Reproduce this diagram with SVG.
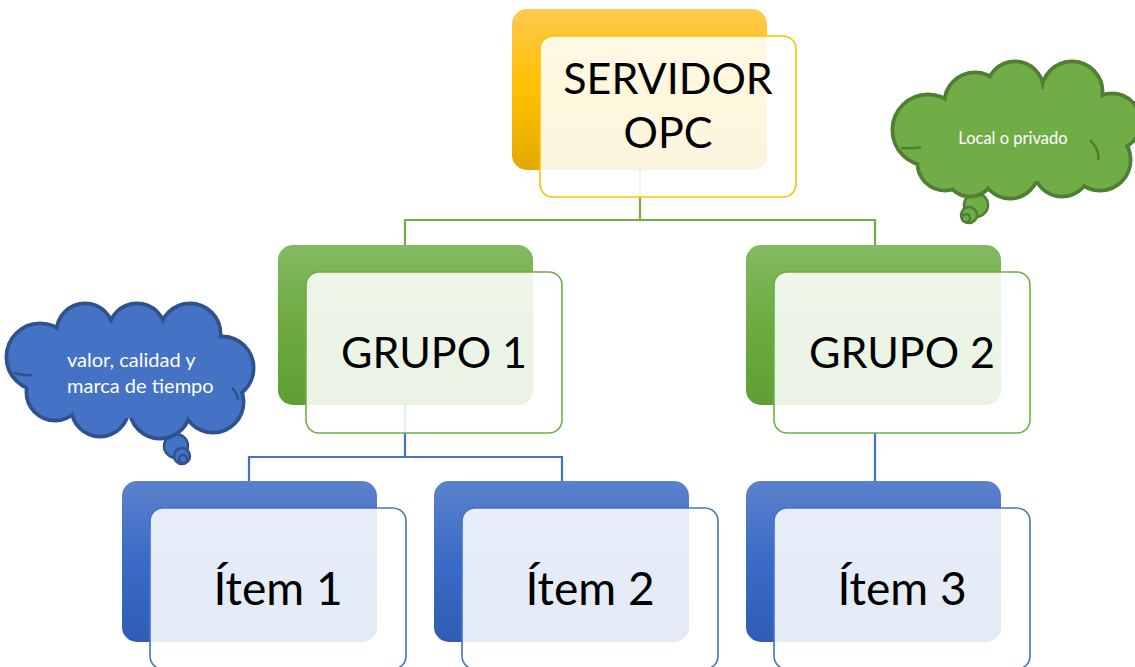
<svg xmlns="http://www.w3.org/2000/svg" width="1135" height="667" viewBox="0 0 1135 667">
<style>
.front{fill:#fff;fill-opacity:0.87;stroke-width:1.6}
.t{font-family:Lato,"Liberation Sans",sans-serif;fill:#000;text-anchor:middle}
.big{font-size:43px}
.itm{font-size:46px}
.gl{stroke:#70AD47;stroke-width:2.2;fill:none}
.bl{stroke:#4472C4;stroke-width:2.2;fill:none}
.ct{font-family:Lato,"Liberation Sans",sans-serif;fill:#fff}
.ia{fill:none;stroke-width:2.5}
</style>
<defs>
<linearGradient id="gO" x1="0" y1="0" x2="0" y2="1"><stop offset="0" stop-color="#FFC94F"/><stop offset="0.5" stop-color="#FFC000"/><stop offset="1" stop-color="#E1AA00"/></linearGradient>
<linearGradient id="gG" x1="0" y1="0" x2="0" y2="1"><stop offset="0" stop-color="#82BA62"/><stop offset="0.5" stop-color="#6DAB40"/><stop offset="1" stop-color="#5E9E33"/></linearGradient>
<linearGradient id="gB" x1="0" y1="0" x2="0" y2="1"><stop offset="0" stop-color="#5B81CC"/><stop offset="0.5" stop-color="#3A6BC6"/><stop offset="1" stop-color="#2F5DB6"/></linearGradient>
</defs>
<rect width="1135" height="667" fill="#fff"/>
<g id="connectors">
<path class="gl" d="M640 170 V220 M405 245 V220 H875 V245"/>
<path class="bl" d="M405 405 V457 M249 481 V457 H562 V481 M875 433 V481"/>
</g>
<g id="servidor">
<rect x="512" y="9" width="255" height="161" rx="15" fill="url(#gO)"/>
<rect class="front" x="540" y="36" width="256" height="161" rx="13" stroke="#FFC000"/>
<text class="t big" x="668" y="94">SERVIDOR</text>
<text class="t big" x="668" y="148">OPC</text>
</g>
<g id="grupo1">
<rect x="278" y="245" width="255" height="160" rx="15" fill="url(#gG)"/>
<rect class="front" x="306" y="272" width="256" height="161" rx="13" stroke="#70AD47"/>
<text class="t big" x="434" y="368">GRUPO 1</text>
</g>
<g id="grupo2">
<rect x="746" y="245" width="255" height="160" rx="15" fill="url(#gG)"/>
<rect class="front" x="774" y="272" width="256" height="161" rx="13" stroke="#70AD47"/>
<text class="t big" x="902" y="368">GRUPO 2</text>
</g>
<g id="item1">
<rect x="122" y="481" width="255" height="161" rx="15" fill="url(#gB)"/>
<rect class="front" x="150" y="508" width="256" height="161" rx="13" stroke="#4472C4"/>
<text class="t itm" x="278" y="605">Ítem 1</text>
</g>
<g id="item2">
<rect x="434" y="481" width="255" height="161" rx="15" fill="url(#gB)"/>
<rect class="front" x="462" y="508" width="256" height="161" rx="13" stroke="#4472C4"/>
<text class="t itm" x="590" y="605">Ítem 2</text>
</g>
<g id="item3">
<rect x="746" y="481" width="255" height="161" rx="15" fill="url(#gB)"/>
<rect class="front" x="774" y="508" width="256" height="161" rx="13" stroke="#4472C4"/>
<text class="t itm" x="902" y="605">Ítem 3</text>
</g>
<g id="cloud-local">
<g fill="#70AD47" stroke="#507E32" stroke-width="2.5">
<circle cx="976" cy="205" r="12"/>
<circle cx="969" cy="215" r="8"/>
<circle cx="966" cy="218" r="4"/>
</g>
<g fill="#70AD47" stroke="#507E32" stroke-width="5">
<circle cx="928" cy="130" r="35"/><circle cx="945" cy="163" r="27"/><circle cx="975" cy="103" r="30"/>
<circle cx="1015" cy="90" r="28"/><circle cx="1072" cy="92" r="30"/><circle cx="1112" cy="122" r="28"/>
<circle cx="1100" cy="160" r="30"/><circle cx="1062" cy="168" r="28"/><circle cx="1010" cy="170" r="28"/>
<circle cx="970" cy="172" r="24"/>
</g>
<g fill="#70AD47">
<circle cx="928" cy="130" r="33.8"/><circle cx="945" cy="163" r="25.8"/><circle cx="975" cy="103" r="28.8"/>
<circle cx="1015" cy="90" r="26.8"/><circle cx="1072" cy="92" r="28.8"/><circle cx="1112" cy="122" r="26.8"/>
<circle cx="1100" cy="160" r="28.8"/><circle cx="1062" cy="168" r="26.8"/><circle cx="1010" cy="170" r="26.8"/>
<circle cx="970" cy="172" r="22.8"/>
<ellipse cx="1015" cy="135" rx="85" ry="48"/>
</g>
<path class="ia" stroke="#507E32" d="M901 148 Q912 149 921 147 M1090 140 Q1100 150 1098 160"/>
<text class="ct" x="1013" y="144" font-size="16.5" text-anchor="middle">Local o privado</text>
</g>
<g id="cloud-valor">
<g fill="#4472C4" stroke="#2F528F" stroke-width="2.5">
<circle cx="176" cy="446" r="12"/>
<circle cx="182" cy="456" r="8"/>
<circle cx="183" cy="459" r="4"/>
</g>
<g fill="#4472C4" stroke="#2F528F" stroke-width="5">
<circle cx="40" cy="357" r="33"/><circle cx="85" cy="332" r="28"/><circle cx="137" cy="332" r="28"/>
<circle cx="190" cy="334" r="30"/><circle cx="222" cy="368" r="31"/><circle cx="213" cy="402" r="30"/>
<circle cx="160" cy="408" r="30"/><circle cx="100" cy="408" r="28"/><circle cx="55" cy="392" r="28"/>
</g>
<g fill="#4472C4">
<circle cx="40" cy="357" r="31.8"/><circle cx="85" cy="332" r="26.8"/><circle cx="137" cy="332" r="26.8"/>
<circle cx="190" cy="334" r="28.8"/><circle cx="222" cy="368" r="29.8"/><circle cx="213" cy="402" r="28.8"/>
<circle cx="160" cy="408" r="28.8"/><circle cx="100" cy="408" r="26.8"/><circle cx="55" cy="392" r="26.8"/>
<ellipse cx="130" cy="370" rx="95" ry="48"/>
</g>
<path class="ia" stroke="#2F528F" d="M14 373 Q24 376 32 375 M232 388 Q238 394 238 400"/>
<text class="ct" x="67" y="367" font-size="20">valor, calidad y</text>
<text class="ct" x="67" y="393" font-size="20">marca de tiempo</text>
</g>
</svg>
